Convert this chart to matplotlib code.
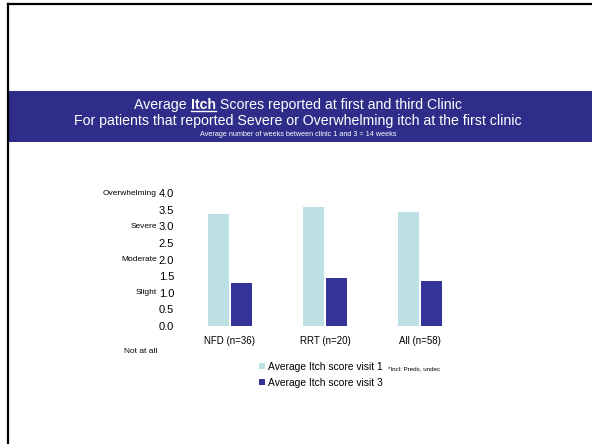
import matplotlib
matplotlib.use("Agg")
import matplotlib.pyplot as plt
from matplotlib.patches import Rectangle
from matplotlib.lines import Line2D
import numpy as np

plt.rcParams['font.family'] = ['Liberation Sans', 'DejaVu Sans']

categories = ["NFD (n=36)", "RRT (n=20)", "All (n=58)"]
visit1 = [3.37, 3.57, 3.43]
visit3 = [1.28, 1.44, 1.34]
series_names = ["Average Itch score visit 1", "Average Itch score visit 3"]
ytick_values = [0.0, 0.5, 1.0, 1.5, 2.0, 2.5, 3.0, 3.5, 4.0]
scale_words = {4.0: "Overwhelming", 3.0: "Severe", 2.0: "Moderate", 1.0: "Slight"}

c1 = "#bde0e4"
c3 = "#333399"
banner = "#2e2e8a"

W, H = 592, 444
fig = plt.figure(figsize=(W / 100, H / 100), dpi=100)
renderer = fig.canvas.get_renderer()

# slide frame (left and top edges)
fig.add_artist(Line2D([7.5 / W, 7.5 / W], [0, 1 - 4 / H], color="black", lw=1.6))
fig.add_artist(Line2D([7.5 / W, 1], [1 - 4.5 / H, 1 - 4.5 / H], color="black", lw=1.6))

# title banner
fig.add_artist(Rectangle((8.5 / W, 1 - 142.5 / H), 1 - 8.5 / W, 51 / H,
                         transform=fig.transFigure, facecolor=banner, edgecolor="none"))
cx = 298 / W
title_size = 10.2

# first title line built from pieces so the key word can be bold and underlined
pieces = [("Average ", "normal"), ("Itch", "bold"), (" Scores reported at first and third Clinic", "normal")]
y1 = 1 - 109 / H
texts = []
widths = []
for s, wgt in pieces:
    t = fig.text(0, y1, s, ha="left", va="baseline", color="white",
                 fontsize=title_size, fontweight=wgt)
    bb = t.get_window_extent(renderer)
    texts.append(t)
    widths.append(bb.width)
total = sum(widths)
xstart = cx * W - total / 2
xpos = xstart
for t, w in zip(texts, widths):
    t.set_x(xpos / W)
    xpos += w
# underline under the bold word
ux0 = (xstart + widths[0]) / W
ux1 = (xstart + widths[0] + widths[1]) / W
fig.add_artist(Line2D([ux0, ux1], [y1 - 2.2 / H, y1 - 2.2 / H], color="white", lw=1.0))

fig.text(cx, 1 - 124.5 / H, "For patients that reported Severe or Overwhelming itch at the first clinic",
         ha="center", va="baseline", color="white", fontsize=title_size)
fig.text(cx, 1 - 136.5 / H, "Average number of weeks between clinic 1 and 3 = 14 weeks",
         ha="center", va="baseline", color="white", fontsize=5.2)

# chart area
ax = fig.add_axes([182.5 / W, 1 - 326 / H, 285 / W, 133 / H])
x = np.arange(len(categories))
bw = 0.22
gap = 0.03
ax.bar(x - (bw + gap) / 2, visit1, bw, color=c1, edgecolor="none", label=series_names[0])
ax.bar(x + (bw + gap) / 2, visit3, bw, color=c3, edgecolor="none", label=series_names[1])
ax.set_xlim(-0.5, len(categories) - 0.5)
ax.set_ylim(0, 4.0)
ax.set_yticks(ytick_values)
ax.set_yticklabels([f"{v:.1f}" for v in ytick_values], fontsize=8)
ax.set_xticks(x)
ax.set_xticklabels(categories, fontsize=7)
ax.tick_params(length=0)
ax.tick_params(axis="x", pad=7)
ax.tick_params(axis="y", pad=6)
for s in ax.spines.values():
    s.set_visible(False)

# verbal scale next to the numeric ticks
for v, word in scale_words.items():
    ax.annotate(word, xy=(0, v), xycoords=("axes fraction", "data"),
                xytext=(-18.4, 0), textcoords="offset points", ha="right", va="center",
                fontsize=6)
fig.text(157.5 / W, 1 - 351 / H, "Not at all", ha="right", va="center", fontsize=6)

# legend
fig.legend(loc="upper left", bbox_to_anchor=(259 / W, 1 - 361.5 / H), frameon=False,
           fontsize=7.4, handlelength=0.55, handleheight=0.55, handletextpad=0.3,
           labelspacing=0.6, borderpad=0, borderaxespad=0)
fig.text(388 / W, 1 - 369 / H, "*Incl: Predx, undec", ha="left", va="center", fontsize=4.5)

fig.savefig("out.png", dpi=100)
